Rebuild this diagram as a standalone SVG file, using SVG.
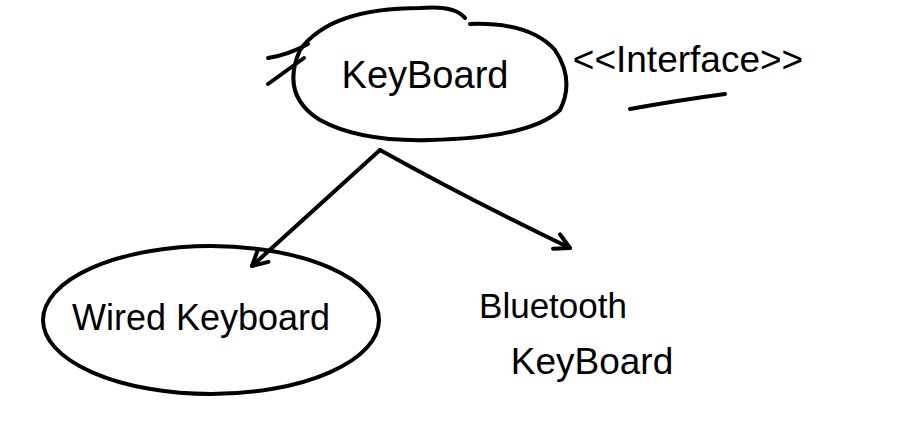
<svg xmlns="http://www.w3.org/2000/svg" width="897" height="434" viewBox="0 0 897 434">
<style>
.s{fill:none;stroke:#000;stroke-width:4;stroke-linecap:round;stroke-linejoin:round}
.t{font-family:"Liberation Sans",Arial,sans-serif;fill:#000}
</style>
<defs>
<marker id="ah" viewBox="0 0 20 20" refX="17" refY="10" markerWidth="20" markerHeight="20" markerUnits="userSpaceOnUse" orient="auto">
<path d="M2,2 L17,10 L2,18" fill="none" stroke="#000" stroke-width="4" stroke-linecap="round" stroke-linejoin="round"/>
</marker>
</defs>
<rect width="897" height="434" fill="#fff"/>
<g id="connectors">
<path class="s" d="M380,150 Q330,195 252,266" marker-end="url(#ah)"/>
<path class="s" d="M380,150 Q470,200 570,248" marker-end="url(#ah)"/>
</g>
<g id="keyboard">
<path class="s" d="M465,18 Q455,5 420,8 Q330,8 300,50 Q280,95 320,120 Q360,142 430,140 Q530,138 560,110 Q575,80 555,50 Q530,22 470,24"/>
<path class="s" d="M268,58 Q288,55 308,44 M304,58 L268,84"/>
<text class="t" x="425" y="88" font-size="38" text-anchor="middle">KeyBoard</text>
</g>
<g id="interface">
<text class="t" x="688" y="72" font-size="37" text-anchor="middle">&lt;&lt;Interface&gt;&gt;</text>
<path class="s" d="M630,109 Q680,100 725,94"/>
</g>
<g id="wired">
<ellipse class="s" cx="211" cy="320" rx="168" ry="74"/>
<text class="t" x="201" y="330" font-size="36" text-anchor="middle">Wired Keyboard</text>
</g>
<g id="bluetooth">
<text class="t" x="553" y="318" font-size="35" text-anchor="middle">Bluetooth</text>
<text class="t" x="592" y="374" font-size="37" text-anchor="middle">KeyBoard</text>
</g>
</svg>
